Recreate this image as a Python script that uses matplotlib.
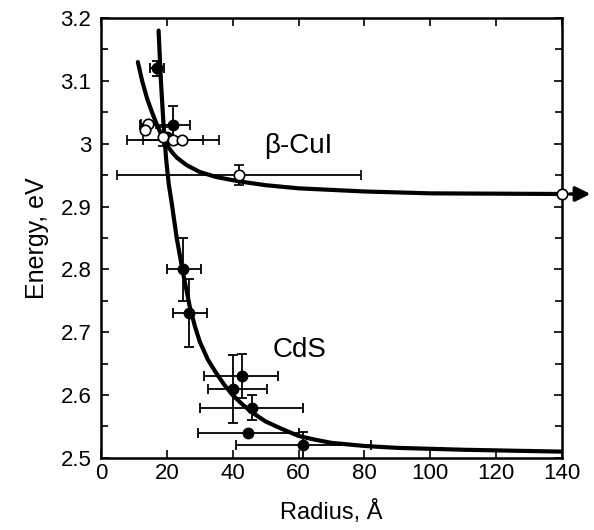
import numpy as np
import matplotlib
matplotlib.use("Agg")
import matplotlib.pyplot as plt
from matplotlib.ticker import MultipleLocator, FuncFormatter

plt.rcParams['font.family'] = ['Liberation Sans', 'DejaVu Sans']

# CdS data points (filled circles)
cds_r = [17.0, 21.8, 20.0, 24.9, 26.7, 42.8, 40.1, 45.9, 44.7, 61.4]
cds_e = [3.12, 3.03, 3.01, 2.80, 2.73, 2.63, 2.61, 2.58, 2.54, 2.52]
cds_rerr_lo = [2.0, 10.0, 0.0, 4.9, 4.8, 11.5, 7.5, 15.9, 15.3, 20.4]
cds_rerr_hi = [2.0, 5.2, 0.0, 5.5, 5.5, 11.0, 10.3, 15.5, 15.3, 20.6]
cds_eerr = [0.012, 0.03, 0.0, 0.05, 0.054, 0.035, 0.054, 0.02, 0.0, 0.022]

# beta-CuI data points (open circles)
cui_r = [14.4, 13.5, 18.9, 21.8, 24.5, 41.9, 140.0]
cui_e = [3.031, 3.022, 3.011, 3.006, 3.006, 2.95, 2.92]
cui_rerr_lo = [2.3, 0.0, 0.0, 14.0, 11.7, 37.0, 0.0]
cui_rerr_hi = [2.3, 0.0, 0.0, 14.0, 6.5, 37.0, 0.0]
cui_eerr = [0.0, 0.0, 0.015, 0.0, 0.0, 0.016, 0.0]

# fitted curves
cds_fit_r = [17.5, 18.2, 19.0, 19.8, 20.6, 21.5, 23.0, 24.9, 27.0, 28.5, 30.0, 32.5,
             35.0, 37.5, 40.0, 43.0, 46.0, 50.0, 55.0, 60.0, 65.0, 70.0, 80.0, 90.0,
             110.0, 140.0]
cds_fit_e = [3.18, 3.10, 3.03, 2.975, 2.935, 2.905, 2.85, 2.795, 2.74, 2.71, 2.685, 2.656,
             2.635, 2.616, 2.60, 2.585, 2.572, 2.558, 2.546, 2.535, 2.529, 2.524, 2.519, 2.516,
             2.513, 2.51]
cui_fit_r = [11.2, 12.5, 14.0, 15.5, 17.0, 18.5, 20.0, 21.5, 23.0, 26.0, 30.0, 35.0,
             42.0, 50.0, 60.0, 80.0, 100.0, 140.0]
cui_fit_e = [3.13, 3.10, 3.072, 3.05, 3.03, 3.012, 2.998, 2.987, 2.978, 2.966, 2.955, 2.947,
             2.94, 2.934, 2.929, 2.924, 2.921, 2.92]

fig = plt.figure(figsize=(5.94, 5.30), dpi=100)
ax = fig.add_axes([0.170, 0.136, 0.776, 0.830])

ax.plot(cds_fit_r, cds_fit_e, color='black', lw=3, solid_capstyle='round',
        solid_joinstyle='round', zorder=2)
ax.plot(cui_fit_r, cui_fit_e, color='black', lw=3, solid_capstyle='round',
        solid_joinstyle='round', zorder=2)

ax.errorbar(cds_r, cds_e, xerr=[cds_rerr_lo, cds_rerr_hi], yerr=cds_eerr,
            fmt='o', color='black', ms=7.5, elinewidth=1.3, capsize=3.5,
            capthick=1.3, zorder=3)
ax.errorbar(cui_r, cui_e, xerr=[cui_rerr_lo, cui_rerr_hi], yerr=cui_eerr,
            fmt='o', color='black', mfc='white', mec='black', mew=1.2, ms=7.5,
            elinewidth=1.3, capsize=3.5, capthick=1.3, zorder=4, clip_on=False)

# arrow off the right edge
ax.annotate('', xy=(149.5, 2.92), xytext=(141.5, 2.92),
            arrowprops=dict(arrowstyle='-|>', lw=2.5, color='black', mutation_scale=22),
            annotation_clip=False)

ax.text(59.8, 2.997, 'β-CuI', fontsize=20, ha='center', va='center')
ax.text(60.4, 2.672, 'CdS', fontsize=20, ha='center', va='center')

ax.set_xlim(0, 140)
ax.set_ylim(2.5, 3.2)
ax.xaxis.set_major_locator(MultipleLocator(20))
ax.yaxis.set_major_locator(MultipleLocator(0.1))
ax.yaxis.set_minor_locator(MultipleLocator(0.05))
ax.yaxis.set_major_formatter(FuncFormatter(lambda v, p: '%g' % round(v, 2)))
ax.tick_params(which='both', direction='in', top=True, right=True, width=1.2,
               labelsize=16)
ax.tick_params(which='major', length=6)
ax.tick_params(which='minor', length=5)
ax.tick_params(axis='y', pad=7)
for s in ax.spines.values():
    s.set_linewidth(1.8)

ax.set_xlabel('Radius, Å', fontsize=17, labelpad=12)
ax.set_ylabel('Energy, eV', fontsize=18, labelpad=8)

fig.savefig('out.png', dpi=100)
